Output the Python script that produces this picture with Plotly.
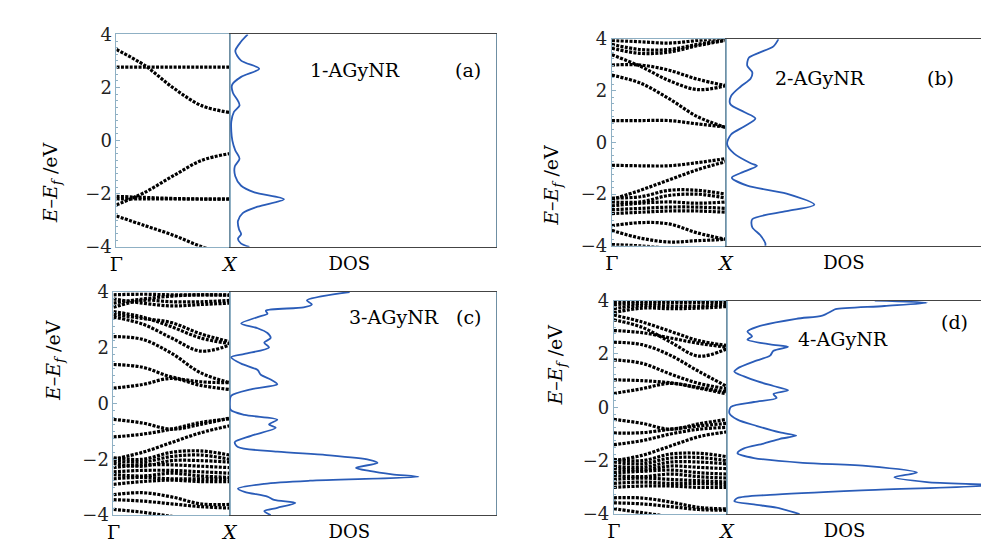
import plotly.graph_objects as go

# k-points along Gamma -> X (fractional)
K = [0.0, 0.25, 0.5, 0.75, 1.0]

# ---------- panel (a) 1-AGyNR ----------
bands_a = [
    [3.43, 2.83, 1.99, 1.32, 1.06],
    [2.77, 2.77, 2.77, 2.77, 2.77],
    [-2.42, -1.95, -1.33, -0.75, -0.49],
    [-2.2, -2.2, -2.2, -2.2, -2.2],
    [-2.1, -2.14, -2.18, -2.2, -2.2],
    [-2.84, -3.2, -3.56, -3.99, -4.3],
]
dos_e_a = [4.0, 3.73, 3.37, 3.01, 2.71, 2.40, 2.10, 1.80, 1.50, 1.32, 1.08, 0.71, 0.35, 0.0,
           -0.37, -0.68, -0.98, -1.34, -1.70, -1.95, -2.21, -2.49, -2.73, -3.03, -3.34,
           -3.52, -3.70, -3.88, -4.0]
dos_v_a = [6.8, 4.3, 2.1, 4.3, 11.1, 4.3, 0.9, 1.2, 3.1, 3.7, 1.6, 0.6, 0.6, 1.0,
           2.1, 3.7, 1.9, 2.1, 4.3, 9.3, 20.4, 10.5, 4.9, 3.1, 3.5,
           4.3, 3.1, 4.3, 7.4]

# ---------- panel (b) 2-AGyNR ----------
bands_b = [
    [3.95, 3.9, 3.85, 3.95, 4.05],
    [3.8, 3.6, 3.6, 3.8, 3.98],
    [3.65, 3.45, 3.5, 3.75, 3.95],
    [3.4, 2.95, 2.4, 2.05, 2.2],
    [3.0, 3.0, 2.8, 2.45, 2.2],
    [2.61, 2.3, 1.7, 1.0, 0.58],
    [0.85, 0.85, 0.85, 0.72, 0.6],
    [-0.88, -0.9, -0.9, -0.78, -0.62],
    [-2.2, -1.85, -1.45, -1.05, -0.74],
    [-2.15, -2.1, -1.85, -1.85, -2.0],
    [-2.3, -2.3, -2.05, -2.0, -2.15],
    [-2.45, -2.35, -2.3, -2.35, -2.3],
    [-2.6, -2.55, -2.5, -2.5, -2.55],
    [-2.75, -2.7, -2.65, -2.65, -2.7],
    [-3.22, -3.1, -3.15, -3.5, -3.75],
    [-3.4, -3.7, -3.85, -3.8, -3.75],
    [-3.95, -4.0, -4.1, -4.2, -4.3],
]
dos_e_b = [4.0, 3.72, 3.47, 3.28, 2.97, 2.72, 2.48, 2.17, 1.80, 1.49, 1.18, 0.93, 0.62, 0.31,
           -0.06, -0.43, -0.80, -0.90, -1.18, -1.36, -1.67, -1.98, -2.41, -2.66, -2.97,
           -3.28, -3.59, -3.90, -4.0]
dos_v_b = [20.0, 18.1, 12.5, 8.7, 8.1, 10.0, 9.4, 5.6, 1.9, 1.6, 6.9, 11.2, 6.9, 1.9,
           0.4, 3.1, 9.4, 11.8, 5.6, 2.2, 8.1, 23.1, 33.7, 23.1, 10.0,
           10.0, 13.1, 15.0, 15.0]

# ---------- panel (c) 3-AGyNR ----------
bands_c = [
    [3.9, 3.92, 3.9, 3.9, 3.9],
    [3.6, 3.75, 3.85, 3.9, 3.88],
    [3.45, 3.7, 3.65, 3.65, 3.7],
    [3.75, 3.6, 3.5, 3.55, 3.6],
    [3.3, 3.1, 2.75, 2.35, 2.15],
    [3.1, 2.85, 2.35, 1.88, 2.1],
    [3.2, 3.05, 2.9, 2.5, 2.22],
    [2.4, 2.3, 1.8, 1.1, 0.75],
    [1.4, 1.3, 0.95, 0.78, 0.75],
    [0.55, 0.68, 0.9, 0.65, 0.5],
    [-0.57, -0.7, -0.92, -0.75, -0.52],
    [-1.2, -1.1, -0.92, -0.68, -0.55],
    [-2.0, -1.75, -1.4, -1.05, -0.8],
    [-1.95, -2.0, -1.75, -1.7, -1.85],
    [-2.05, -2.1, -1.9, -1.85, -2.0],
    [-2.15, -2.25, -2.05, -2.05, -2.1],
    [-2.3, -2.2, -2.2, -2.25, -2.3],
    [-2.45, -2.4, -2.4, -2.45, -2.5],
    [-2.55, -2.6, -2.5, -2.6, -2.65],
    [-2.7, -2.65, -2.7, -2.7, -2.7],
    [-2.9, -2.8, -2.75, -2.8, -2.8],
    [-3.27, -3.2, -3.35, -3.6, -3.62],
    [-3.45, -3.5, -3.6, -3.7, -3.75],
    [-3.8, -3.9, -4.05, -4.2, -4.3],
]
dos_e_c = [4.00, 3.70, 3.56, 3.45, 3.33, 3.22, 3.10, 2.87, 2.70, 2.53, 2.35, 2.18, 2.01,
           1.78, 1.66, 1.43, 1.20, 1.03, 0.86, 0.69, 0.51, 0.28, 0.05, -0.23, -0.41,
           -0.58, -0.75, -0.87, -1.16, -1.39, -1.56, -1.73, -1.85, -2.02, -2.13, -2.31,
           -2.42, -2.54, -2.63, -2.77, -2.88, -3.05, -3.17, -3.34, -3.46, -3.57, -3.74,
           -3.86, -4.00]
dos_v_c = [45.1, 29.0, 30.9, 27.8, 13.6, 14.2, 10.5, 4.3, 10.5, 14.2, 15.4, 13.0, 14.8,
           5.6, 0.6, 4.3, 10.5, 11.7, 15.4, 17.9, 8.0, 0.6, 0.0, 0.4, 5.6,
           17.9, 14.8, 17.3, 8.0, 1.9, 3.1, 17.9, 36.4, 52.5, 55.6, 47.5,
           52.5, 61.1, 71.0, 30.2, 13.0, 3.1, 5.6, 14.2, 16.7, 24.7, 17.9,
           13.0, 15.4]

# ---------- panel (d) 4-AGyNR ----------
bands_d = [
    [3.95, 3.97, 3.98, 3.98, 3.98],
    [3.85, 3.9, 3.92, 3.93, 3.92],
    [3.7, 3.82, 3.8, 3.8, 3.85],
    [3.55, 3.72, 3.7, 3.72, 3.78],
    [3.46, 3.2, 2.85, 2.5, 2.32],
    [3.28, 3.0, 2.45, 1.92, 2.2],
    [2.88, 2.8, 2.6, 2.4, 2.25],
    [2.44, 2.35, 1.95, 1.35, 0.78],
    [1.78, 1.65, 1.25, 0.9, 0.7],
    [1.03, 1.0, 0.92, 0.75, 0.58],
    [0.52, 0.7, 0.9, 0.72, 0.5],
    [-0.45, -0.6, -0.82, -0.62, -0.45],
    [-0.96, -0.95, -0.82, -0.7, -0.6],
    [-1.4, -1.25, -1.0, -0.82, -0.75],
    [-2.0, -1.8, -1.45, -1.1, -0.92],
    [-1.95, -2.0, -1.75, -1.72, -1.85],
    [-2.05, -2.12, -1.9, -1.88, -2.0],
    [-2.2, -2.25, -2.05, -2.05, -2.12],
    [-2.3, -2.35, -2.2, -2.25, -2.3],
    [-2.45, -2.4, -2.35, -2.45, -2.5],
    [-2.55, -2.6, -2.5, -2.6, -2.65],
    [-2.7, -2.65, -2.7, -2.75, -2.8],
    [-2.85, -2.8, -2.85, -2.85, -2.9],
    [-3.0, -2.95, -2.95, -3.0, -3.0],
    [-3.39, -3.4, -3.55, -3.75, -3.81],
    [-3.58, -3.62, -3.72, -3.83, -3.86],
    [-3.8, -3.95, -4.1, -4.25, -4.35],
]
dos_e_d = [4.00, 3.92, 3.80, 3.68, 3.62, 3.44, 3.32, 3.02, 2.84, 2.66, 2.54, 2.36, 2.27,
           2.12, 1.94, 1.76, 1.46, 1.34, 1.16, 0.98, 0.80, 0.64, 0.50, 0.35, 0.20, 0.02,
           -0.22, -0.46, -0.70, -0.94, -1.06, -1.18, -1.36, -1.54, -1.72, -1.90, -2.08,
           -2.20, -2.44, -2.62, -2.80, -2.92, -3.10, -3.28, -3.40, -3.52, -3.64, -3.76,
           -4.00]
dos_v_d = [56.6, 76.6, 60.3, 41.6, 40.3, 36.5, 26.5, 11.5, 7.8, 9.6, 7.8, 16.5, 23.4,
           17.8, 16.5, 11.5, 4.0, 2.8, 6.5, 11.5, 17.8, 23.4, 17.8, 19.0, 10.3, 1.5,
           0.9, 4.0, 11.5, 20.3, 26.5, 20.3, 14.0, 6.5, 4.0, 10.3, 29.0,
           54.1, 72.8, 64.1, 76.6, 102.0, 54.1, 16.5, 4.0, 2.8, 10.3, 19.0,
           27.8]

panel_names = ["1-AGyNR", "2-AGyNR", "3-AGyNR", "4-AGyNR"]
panel_tags = ["(a)", "(b)", "(c)", "(d)"]

W, H = 989, 542
# pixel boxes: band x0, split x, dos x1, y top, y bottom
boxes = [
    (103, 218, 488, 16, 237),
    (606, 722, 988, 21, 236),
    (100, 218, 488, 284, 516),
    (608, 723, 988, 293, 515),
]
all_bands = [bands_a, bands_b, bands_c, bands_d]
all_dos = [(dos_e_a, dos_v_a), (dos_e_b, dos_v_b), (dos_e_c, dos_v_c), (dos_e_d, dos_v_d)]

SERIF = "DejaVu Serif, Liberation Serif, serif"
FRAME = "#8fb0c4"
fig = go.Figure()
layout = {}

for p in range(4):
    bx0, bx1, dx1, yt, yb = boxes[p]
    ia = 2 * p + 1
    idos = 2 * p + 2
    ydom = [1 - yb / H, 1 - yt / H]
    xa_b = "x" if ia == 1 else f"x{ia}"
    ya_b = "y" if ia == 1 else f"y{ia}"
    xa_d = f"x{idos}"
    ya_d = f"y{idos}"
    for band in all_bands[p]:
        fig.add_trace(go.Scatter(
            x=K, y=band, mode="lines", xaxis=xa_b, yaxis=ya_b, showlegend=False,
            line=dict(color="black", width=3.2, dash="3px,1.4px", shape="spline", smoothing=1.0),
            hoverinfo="skip"))
    de, dv = all_dos[p]
    fig.add_trace(go.Scatter(
        x=dv, y=de, mode="lines", xaxis=xa_d, yaxis=ya_d, showlegend=False,
        line=dict(color="#2a5cb8", width=1.8, shape="spline", smoothing=0.8),
        hoverinfo="skip"))

    kb = "xaxis" if ia == 1 else f"xaxis{ia}"
    kyb = "yaxis" if ia == 1 else f"yaxis{ia}"
    layout[kb] = dict(domain=[bx0 / W, bx1 / W], anchor=ya_b, range=[0, 1],
                      tickvals=[0, 1], ticktext=["Γ", "<i>X</i>"], ticks="",
                      showgrid=False, zeroline=False, showline=True, mirror=True,
                      linecolor=FRAME, linewidth=1,
                      tickfont=dict(family=SERIF, size=19, color="black"))
    layout[kyb] = dict(domain=ydom, anchor=xa_b, range=[-4, 4],
                       tickvals=[-4, -2, 0, 2, 4], ticktext=["−4", "−2", "0", "2", "4"],
                       ticks="inside", ticklen=4, tickcolor=FRAME,
                       minor=dict(ticks="inside", ticklen=2, dtick=0.25, tickcolor=FRAME),
                       showgrid=False, zeroline=False, showline=True, mirror=True,
                       linecolor=FRAME, linewidth=1,
                       tickfont=dict(family=SERIF, size=18, color="#222"))
    layout[f"xaxis{idos}"] = dict(domain=[bx1 / W, dx1 / W], anchor=ya_d, range=[0, 100],
                                  tickvals=[45], ticktext=["DOS"], ticks="",
                                  showgrid=False, zeroline=False, showline=True, mirror=True,
                                  linecolor="#444", linewidth=1.2,
                                  tickfont=dict(family=SERIF, size=18, color="black"))
    layout[f"yaxis{idos}"] = dict(domain=ydom, anchor=xa_d, range=[-4, 4],
                                  showticklabels=False, ticks="",
                                  showgrid=False, zeroline=False, showline=True, mirror=True,
                                  linecolor="#6f8fa3", linewidth=1)

ann = []
ylab = "<i>E</i>–<i>E</i><sub><i>f</i></sub> /eV"
ylab_x = [22, 545, 25, 550]
name_pos = [(345, 40), (865, 48), (385, 310), (888, 333)]
tag_pos = [(460, 40), (955, 48), (460, 310), (970, 315)]
for p in range(4):
    bx0, bx1, dx1, yt, yb = boxes[p]
    ann.append(dict(text=ylab, x=ylab_x[p] / W, y=1 - (yt + yb) / 2 / H, xref="paper", yref="paper",
                    showarrow=False, textangle=-90, font=dict(family=SERIF, size=19, color="black")))
    ann.append(dict(text=panel_names[p], x=name_pos[p][0] / W, y=1 - name_pos[p][1] / H,
                    xref="paper", yref="paper", showarrow=False,
                    font=dict(family=SERIF, size=19, color="black")))
    ann.append(dict(text=panel_tags[p], x=tag_pos[p][0] / W, y=1 - tag_pos[p][1] / H,
                    xref="paper", yref="paper", showarrow=False,
                    font=dict(family=SERIF, size=19, color="black")))

fig.update_layout(width=W, height=H, margin=dict(l=0, r=0, t=0, b=0),
                  paper_bgcolor="white", plot_bgcolor="white", annotations=ann, **layout)
fig.write_html("out.html")
